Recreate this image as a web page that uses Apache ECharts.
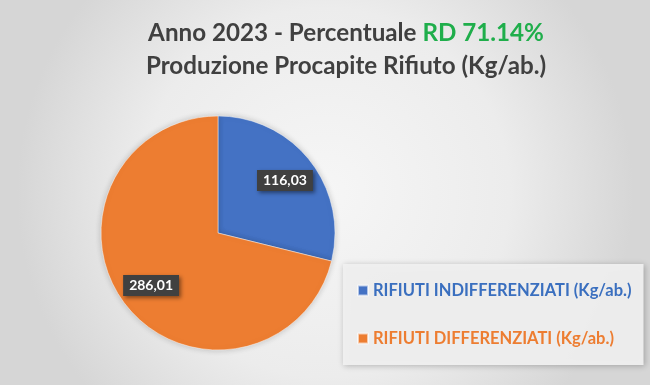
<!DOCTYPE html>
<html>
<head>
<meta charset="utf-8">
<script src="https://cdn.jsdelivr.net/npm/echarts@6/dist/echarts.min.js"></script>
<style>
html,body{margin:0;padding:0;}
#c{width:650px;height:385px;}
</style>
</head>
<body>
<div id="c"></div>
<script>
const categories = ['RIFIUTI INDIFFERENZIATI (Kg/ab.)', 'RIFIUTI DIFFERENZIATI (Kg/ab.)'];
const values = [116.03, 286.01];
const colors = ['#4472c4', '#ed7d31'];
const textColors = ['#3a6fbf', '#ed7d31'];
const titleLine1 = 'Anno 2023 - Percentuale ';
const titleHighlight = 'RD 71.14%';
const titleLine2 = 'Produzione Procapite Rifiuto (Kg/ab.)';

const FONT = 'Lato';
const chart = echarts.init(document.getElementById('c'));
const data = categories.map((n, i) => ({ name: n, value: values[i], itemStyle: { color: colors[i] } }));
const fmt = p => p.value.toFixed(2).replace('.', ',');

chart.setOption({
  backgroundColor: {
    type: 'radial', x: 0.5, y: 0.5, r: 0.8,
    colorStops: [{ offset: 0, color: '#f6f6f6' }, { offset: 0.6, color: '#ececec' }, { offset: 1, color: '#d6d6d6' }]
  },
  title: {
    left: 341, top: 12, textAlign: 'center',
    text: '{a|' + titleLine1 + '}{g|' + titleHighlight + '}\n{a|' + titleLine2 + '}',
    textStyle: {
      rich: {
        a: { fontFamily: FONT, fontWeight: 'bold', fontSize: 24.2, color: '#404040', lineHeight: 33 },
        g: { fontFamily: FONT, fontWeight: 'bold', fontSize: 24.2, color: '#1fae4b', lineHeight: 33 }
      }
    }
  },
  legend: {
    orient: 'vertical', left: 343, top: 264,
    padding: [18, 12, 18, 14],
    itemGap: 31, itemWidth: 10, itemHeight: 10,
    icon: 'rect',
    backgroundColor: 'rgba(240,240,240,0.95)',
    shadowBlur: 6, shadowColor: 'rgba(0,0,0,0.25)', shadowOffsetX: 1, shadowOffsetY: 1,
    selectedMode: false,
    textStyle: { fontFamily: FONT, fontSize: 16.5, fontWeight: 'bold' },
    data: categories.map((n, i) => ({ name: n, textStyle: { color: textColors[i] } }))
  },
  series: [
    {
      type: 'pie', center: [218, 233], radius: [0, 117], startAngle: 90, clockwise: true,
      silent: true,
      itemStyle: { borderColor: 'rgba(255,255,255,0.6)', borderWidth: 0.8, shadowBlur: 6, shadowColor: 'rgba(0,0,0,0.2)' },
      label: { show: false }, labelLine: { show: false },
      data: data
    },
    {
      type: 'pie', center: [218, 233], radius: [47, 117], startAngle: 90, clockwise: true,
      silent: true, legendHoverLink: false,
      itemStyle: { color: 'rgba(0,0,0,0)' },
      emphasis: { disabled: true },
      label: {
        show: true, position: 'inside', formatter: fmt,
        fontFamily: FONT, fontWeight: 'bold', fontSize: 14, color: '#ffffff',
        backgroundColor: '#404040', padding: [4, 6, 3, 6],
        shadowBlur: 4, shadowColor: 'rgba(0,0,0,0.45)', shadowOffsetX: 2, shadowOffsetY: 2
      },
      labelLine: { show: false },
      data: categories.map((n, i) => ({ name: n + ' ', value: values[i] }))
    }
  ]
});
</script>
</body>
</html>
